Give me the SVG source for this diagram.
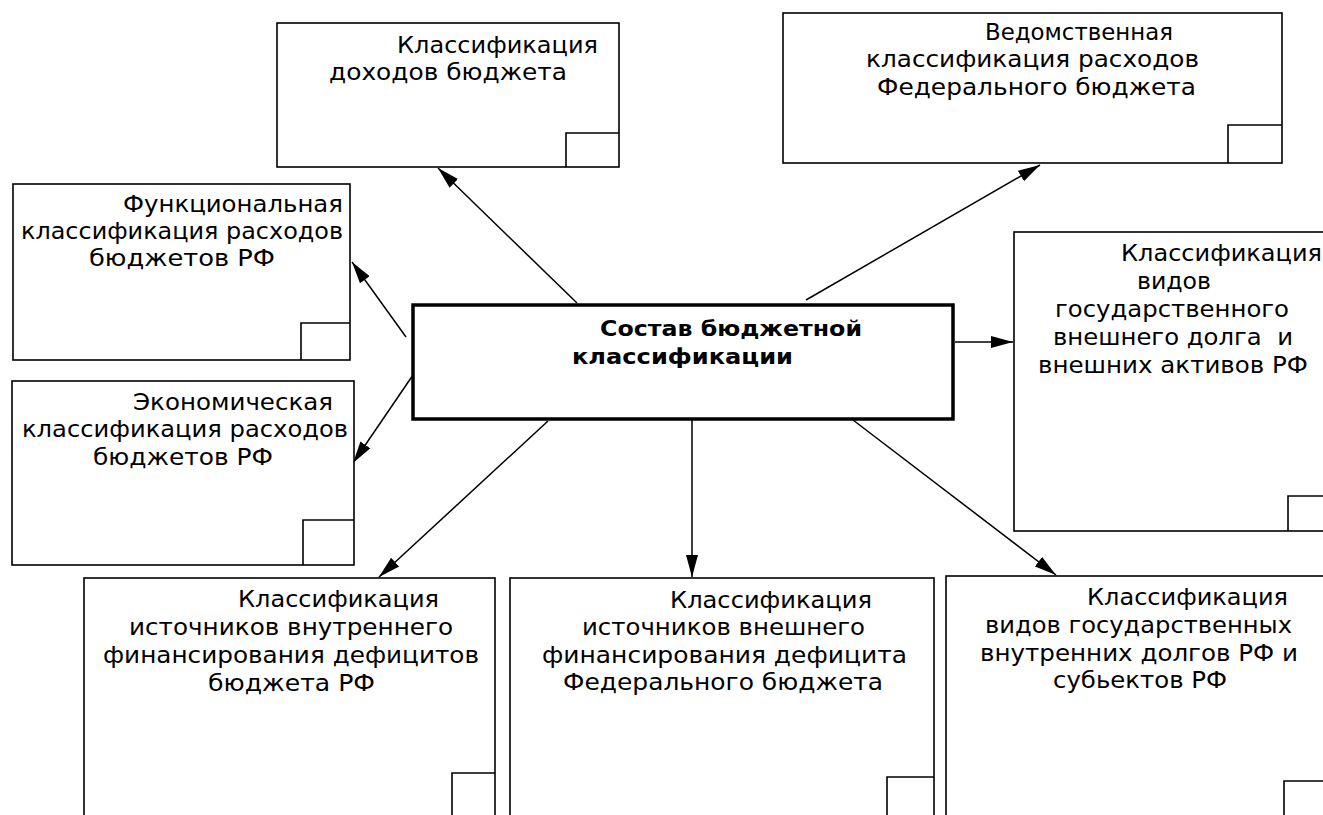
<svg xmlns="http://www.w3.org/2000/svg" width="1323" height="815" viewBox="0 0 1323 815">
<style>
.box{fill:#fff;stroke:#000;stroke-width:1.6}
.corner{fill:none;stroke:#000;stroke-width:1.6}
.main{fill:#fff;stroke:#000;stroke-width:3.5}
.t{font-family:"DejaVu Sans","Liberation Sans",sans-serif;font-size:23px;fill:#000}
.tb{font-family:"DejaVu Sans","Liberation Sans",sans-serif;font-size:22px;font-weight:bold;fill:#000}
.conn{stroke:#000;stroke-width:1.5;fill:none;marker-end:url(#ah)}
</style>
<defs>
<marker id="ah" markerUnits="userSpaceOnUse" markerWidth="24" markerHeight="14" refX="22" refY="7" orient="auto">
<path d="M0,1 L22,7 L0,13 z" fill="#000"/>
</marker>
</defs>
<rect width="1323" height="815" fill="#fff"/>

<g id="connectors">
<line class="conn" x1="577" y1="303" x2="438" y2="168"/>
<line class="conn" x1="406" y1="337" x2="352" y2="262"/>
<line class="conn" x1="413" y1="375" x2="353" y2="463"/>
<line class="conn" x1="806" y1="300" x2="1040" y2="165"/>
<line class="conn" x1="955" y1="342" x2="1013" y2="342"/>
<line class="conn" x1="548" y1="421" x2="379" y2="577"/>
<line class="conn" x1="692" y1="420" x2="692" y2="577"/>
<line class="conn" x1="853" y1="420" x2="1056" y2="575"/>
</g>

<g id="node-dohody">
<rect class="box" x="277" y="23" width="342" height="144"/>
<path class="corner" d="M566,167 V133 H619"/>
<text class="t" x="397" y="53" textLength="201" lengthAdjust="spacingAndGlyphs">Классификация</text>
<text class="t" x="329" y="80" textLength="238" lengthAdjust="spacingAndGlyphs">доходов бюджета</text>
</g>

<g id="node-vedomstvennaya">
<rect class="box" x="783" y="13" width="499" height="150"/>
<path class="corner" d="M1228,163 V125 H1282"/>
<text class="t" x="985" y="40" textLength="188" lengthAdjust="spacingAndGlyphs">Ведомственная</text>
<text class="t" x="866" y="67" textLength="333" lengthAdjust="spacingAndGlyphs">классификация расходов</text>
<text class="t" x="877" y="95" textLength="319" lengthAdjust="spacingAndGlyphs">Федерального бюджета</text>
</g>

<g id="node-funkcionalnaya">
<rect class="box" x="13" y="184" width="337" height="176"/>
<path class="corner" d="M301,360 V323 H350"/>
<text class="t" x="123" y="212" textLength="220" lengthAdjust="spacingAndGlyphs">Функциональная</text>
<text class="t" x="21" y="239" textLength="322" lengthAdjust="spacingAndGlyphs">классификация расходов</text>
<text class="t" x="89" y="266" textLength="186" lengthAdjust="spacingAndGlyphs">бюджетов РФ</text>
</g>

<g id="node-ekonomicheskaya">
<rect class="box" x="12" y="381" width="342" height="184"/>
<path class="corner" d="M303,565 V520 H354"/>
<text class="t" x="133" y="410" textLength="200" lengthAdjust="spacingAndGlyphs">Экономическая</text>
<text class="t" x="22" y="437" textLength="326" lengthAdjust="spacingAndGlyphs">классификация расходов</text>
<text class="t" x="93" y="465" textLength="180" lengthAdjust="spacingAndGlyphs">бюджетов РФ</text>
</g>

<g id="node-main">
<rect class="main" x="413" y="305" width="540" height="114"/>
<text class="tb" x="600" y="336" textLength="262" lengthAdjust="spacingAndGlyphs">Состав бюджетной</text>
<text class="tb" x="572" y="364" textLength="221" lengthAdjust="spacingAndGlyphs">классификации</text>
</g>

<g id="node-vneshniy-dolg">
<rect class="box" x="1014" y="232" width="320" height="299"/>
<path class="corner" d="M1288,531 V496 H1330"/>
<text class="t" x="1121" y="261" textLength="201" lengthAdjust="spacingAndGlyphs">Классификация</text>
<text class="t" x="1137" y="289" textLength="74" lengthAdjust="spacingAndGlyphs">видов</text>
<text class="t" x="1055" y="317" textLength="234" lengthAdjust="spacingAndGlyphs">государственного</text>
<text class="t" x="1053" y="345" textLength="240" lengthAdjust="spacingAndGlyphs" xml:space="preserve">внешнего долга  и</text>
<text class="t" x="1038" y="373" textLength="270" lengthAdjust="spacingAndGlyphs">внешних активов РФ</text>
</g>

<g id="node-vnutr-finansirovanie">
<rect class="box" x="84" y="578" width="411" height="250"/>
<path class="corner" d="M452,830 V773 H495"/>
<text class="t" x="238" y="607" textLength="201" lengthAdjust="spacingAndGlyphs">Классификация</text>
<text class="t" x="129" y="635" textLength="324" lengthAdjust="spacingAndGlyphs">источников внутреннего</text>
<text class="t" x="103" y="663" textLength="376" lengthAdjust="spacingAndGlyphs">финансирования дефицитов</text>
<text class="t" x="208" y="691" textLength="167" lengthAdjust="spacingAndGlyphs">бюджета РФ</text>
</g>

<g id="node-vnesh-finansirovanie">
<rect class="box" x="510" y="578" width="424" height="250"/>
<path class="corner" d="M887,830 V777 H934"/>
<text class="t" x="670" y="608" textLength="202" lengthAdjust="spacingAndGlyphs">Классификация</text>
<text class="t" x="582" y="635" textLength="283" lengthAdjust="spacingAndGlyphs">источников внешнего</text>
<text class="t" x="542" y="663" textLength="365" lengthAdjust="spacingAndGlyphs">финансирования дефицита</text>
<text class="t" x="563" y="690" textLength="320" lengthAdjust="spacingAndGlyphs">Федерального бюджета</text>
</g>

<g id="node-vnutr-dolgi">
<rect class="box" x="946" y="576" width="390" height="260"/>
<path class="corner" d="M1284,830 V781 H1330"/>
<text class="t" x="1087" y="605" textLength="201" lengthAdjust="spacingAndGlyphs">Классификация</text>
<text class="t" x="985" y="633" textLength="307" lengthAdjust="spacingAndGlyphs">видов государственных</text>
<text class="t" x="980" y="661" textLength="318" lengthAdjust="spacingAndGlyphs">внутренних долгов РФ и</text>
<text class="t" x="1053" y="688" textLength="174" lengthAdjust="spacingAndGlyphs">субьектов РФ</text>
</g>
</svg>
